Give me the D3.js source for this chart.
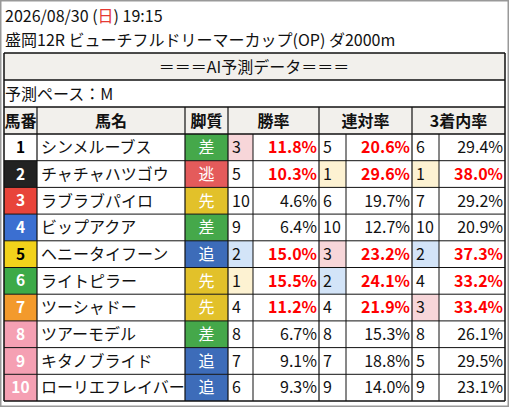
<!DOCTYPE html><html><head><meta charset="utf-8">
<script src="https://cdn.jsdelivr.net/npm/d3@7"></script>
<style>body{margin:0;background:#fff}svg{display:block;font-family:"Noto Sans CJK JP","Noto Sans",sans-serif}</style></head><body>
<script>
const nums=[1,2,3,4,5,6,7,8,9,10];
const names=["シンメルーブス","チャチャハツゴウ","ラブラブパイロ","ビップアクア","ヘニータイフーン","ライトピラー","ツーシャドー","ツアーモデル","キタノブライド","ローリエフレイバー"];
const styles=["差","逃","先","差","追","先","先","差","追","追"];
const winRank=[3,5,10,9,2,1,4,8,7,6];
const winRate=[11.8,10.3,4.6,6.4,15.0,15.5,11.2,6.7,9.1,9.3];
const renRank=[5,1,6,10,3,2,4,8,7,9];
const renRate=[20.6,29.6,19.7,12.7,23.2,24.1,21.9,15.3,18.8,14.0];
const plRank=[6,1,7,10,2,4,3,8,5,9];
const plRate=[29.4,38.0,29.2,20.9,37.3,33.2,33.4,26.1,29.5,23.1];
const headers=["馬番","馬名","脚質","勝率","連対率","3着内率"];

const W=509,H=407;
const svg=d3.select("body").append("svg").attr("width",W).attr("height",H);
svg.append("rect").attr("width",W).attr("height",H).attr("fill","#fff");
const y=d3.scaleBand().domain(nums).range([134,401]);
const xs=[4,37,185,228,253,319,346,412,439,505];
const frameBg={1:"#ffffff",2:"#222222",3:"#e8443a",4:"#3b6fd1",5:"#f2d21b",6:"#3daa48",7:"#f39a2c",8:"#f5a0b3",9:"#f5a0b3",10:"#f5a0b3"};
const frameFg={1:"#000",5:"#000"};
const styleBg={"差":"#45a84a","逃":"#e45b5b","先":"#e2c12a","追":"#3d6cb9"};
const rankBg={1:"#fdf2d2",2:"#d3e4f8",3:"#f7d6d9"};
const line=(x1,y1,x2,y2,w)=>svg.append("line").attr("x1",x1).attr("y1",y1).attr("x2",x2).attr("y2",y2).attr("stroke","#111").attr("stroke-width",w||1.2);
const txt=(x,yy,t,o)=>{o=o||{};return svg.append("text").attr("x",x).attr("y",yy).attr("dy","0.36em").attr("text-anchor",o.a||"start").attr("font-size",o.s||15.5).attr("font-weight",o.b?"bold":"normal").attr("fill",o.c||"#111").text(t);};

const t1=txt(5,16,"2026/08/30 (",{s:16});
t1.append("tspan").attr("fill","#e53935").text("日");t1.append("tspan").text(") 19:15");
txt(5,40,"盛岡12R ビューチフルドリーマーカップ(OP) ダ2000m",{s:16});
svg.append("rect").attr("x",4).attr("y",53).attr("width",501).attr("height",27).attr("fill","#f2f0ec");
txt(254,67,"＝＝＝AI予測データ＝＝＝",{a:"middle",s:16});
txt(5,94,"予測ペース：M",{s:16});
svg.append("rect").attr("x",4).attr("y",107).attr("width",501).attr("height",27).attr("fill","#f2f0ec");
const hx=[[4,37],[37,185],[185,228],[228,319],[319,412],[412,505]];
headers.forEach((h,i)=>txt((hx[i][0]+hx[i][1])/2,121,h,{a:"middle",b:true,s:16}));

nums.forEach((n,i)=>{
  const yy=y(n),bh=y.bandwidth(),cy=yy+bh/2;
  svg.append("rect").attr("x",4).attr("y",yy).attr("width",33).attr("height",bh).attr("fill",frameBg[n]);
  txt(20.5,cy,n,{a:"middle",b:true,c:frameFg[n]||"#fff"});
  txt(41,cy,names[i],{s:16});
  svg.append("rect").attr("x",185).attr("y",yy).attr("width",43).attr("height",bh).attr("fill",styleBg[styles[i]]);
  txt(206.5,cy,styles[i],{a:"middle",c:"#fff",s:16});
  [[winRank,winRate,10,3],[renRank,renRate,20,5],[plRank,plRate,30,7]].forEach(([rk,rt,th,c])=>{
    const r=rk[i];
    if(rankBg[r]) svg.append("rect").attr("x",xs[c]).attr("y",yy).attr("width",xs[c+1]-xs[c]).attr("height",bh).attr("fill",rankBg[r]);
    txt(xs[c]+4,cy,r,{s:16});
    const red=rt[i]>=th;
    txt(xs[c+2]-2,cy,rt[i].toFixed(1)+"%",{a:"end",b:red,c:red?"#f00":"#111",s:16});
  });
});
[53,80,107,134,401].forEach(v=>line(4,v,505,v,1.5));
nums.slice(1).forEach(n=>line(4,y(n),505,y(n),1));
line(4,53,4,401,1.5);line(505,53,505,401,1.5);
[37,185,228,319,412].forEach(v=>line(v,107,v,401,1.2));
[253,346,439].forEach(v=>line(v,134,v,401,1));
svg.append("rect").attr("x",0).attr("y",0).attr("width",W).attr("height",H).attr("fill","none").attr("stroke","#999").attr("stroke-width",3);
</script></body></html>
